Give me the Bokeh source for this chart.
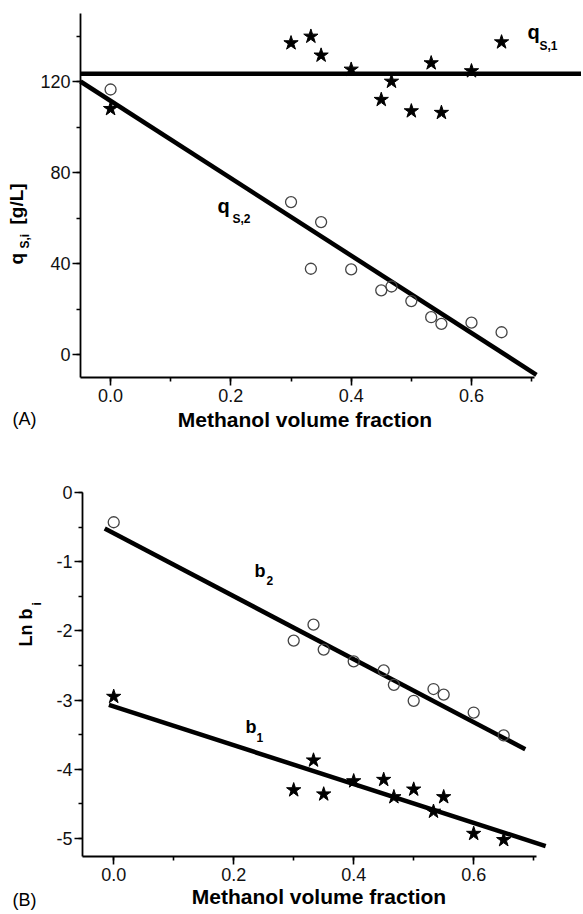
import math
from bokeh.plotting import figure
from bokeh.layouts import column
from bokeh.models import Label, SingleIntervalTicker, Range1d, PrintfTickFormatter, LinearAxis
from bokeh.embed import file_html
from bokeh.resources import INLINE

# ---------------- data ----------------
methanol_fraction = [0.0, 0.30, 0.333, 0.35, 0.40, 0.45, 0.467, 0.50, 0.533, 0.55, 0.60, 0.65]

# panel A: saturation capacities [g/L]
qs1_values = [108.1, 137.0, 139.9, 131.6, 125.4, 112.1, 120.1, 107.1, 128.2, 106.4, 124.7, 137.4]
qs2_values = [116.6, 67.1, 37.8, 58.3, 37.5, 28.3, 30.0, 23.6, 16.5, 13.6, 14.1, 9.9]
qs1_fit_x = [-0.05, 0.79]
qs1_fit_y = [123.5, 123.5]
qs2_fit_x = [-0.05, 0.708]
qs2_fit_y = [120.1, -8.8]

# panel B: Ln b_i
lnb1_values = [-2.95, -4.30, -3.87, -4.36, -4.17, -4.15, -4.40, -4.29, -4.61, -4.40, -4.93, -5.02]
lnb2_values = [-0.43, -2.14, -1.91, -2.27, -2.44, -2.57, -2.78, -3.01, -2.84, -2.92, -3.18, -3.51]
b1_fit_x = [-0.008, 0.72]
b1_fit_y = [-3.07, -5.11]
b2_fit_x = [-0.015, 0.686]
b2_fit_y = [-0.52, -3.71]

FONT = "Liberation Sans"
W = 581


def make_axes(p, x_loc, y_loc, xb, yb, y_interval):
    p.outline_line_color = None
    p.xgrid.visible = False
    p.ygrid.visible = False
    p.background_fill_color = "white"
    p.border_fill_color = "white"
    xa = LinearAxis(fixed_location=x_loc, bounds=xb,
                    ticker=SingleIntervalTicker(interval=0.2, num_minor_ticks=2),
                    formatter=PrintfTickFormatter(format="%.1f"))
    ya = LinearAxis(fixed_location=y_loc, bounds=yb,
                    ticker=SingleIntervalTicker(interval=y_interval, num_minor_ticks=2),
                    formatter=PrintfTickFormatter(format="%d"))
    for ax in (xa, ya):
        ax.axis_line_width = 1.8
        ax.axis_line_color = "black"
        ax.major_tick_line_width = 1.6
        ax.minor_tick_line_width = 1.6
        ax.major_tick_in = 0
        ax.major_tick_out = 8
        ax.minor_tick_in = 0
        ax.minor_tick_out = 4
        ax.major_label_text_font = FONT
        ax.major_label_text_font_size = "18px"
        ax.major_label_text_color = "#111111"
    xa.major_label_standoff = 4
    ya.major_label_standoff = 2
    p.add_layout(xa, "below")
    p.add_layout(ya, "left")


def lab(p, fx, fy, px, py, text, size, bold=True, rotated=False, align="left"):
    # px, py: intended page position of the text baseline start; a shift compensates
    # the renderer's baseline placement
    s = 0.4 * size
    if rotated:
        px -= s
    else:
        py -= s
    p.add_layout(Label(x=fx(px), y=fy(py), text=text, text_font=FONT,
                       text_font_size=f"{size}px",
                       text_font_style="bold" if bold else "normal",
                       angle=math.pi / 2 if rotated else 0.0,
                       text_align=align, text_baseline="alphabetic", text_color="black"))


# ---------------- panel A ----------------
p1 = figure(width=W, height=444, x_range=Range1d(-0.183, 0.7829), y_range=Range1d(-39.45, 155.71),
            output_backend="svg", toolbar_location=None,
            x_axis_location=None, y_axis_location=None,
            min_border_left=0, min_border_right=0, min_border_top=0, min_border_bottom=0)
make_axes(p1, -10, -0.05, (-0.05, 0.705), (-10, 150), 40)

p1.line(qs1_fit_x, qs1_fit_y, line_width=4.5, line_color="black")
p1.line(qs2_fit_x, qs2_fit_y, line_width=4.5, line_color="black")
p1.scatter(methanol_fraction, qs2_values, marker="circle", size=11, fill_color=None,
           line_color="#444444", line_width=1.3)
p1.scatter(methanol_fraction, qs1_values, marker="star", size=15, fill_color="black",
           line_color="black")


def ax1(px):
    return -0.05 + (px - 80) / 601.5


def ay1(py):
    return 150 - (py - 13) / 2.275


lab(p1, ax1, ay1, 527, 39.5, "q", 20)
lab(p1, ax1, ay1, 539, 50, "S,1", 12)
lab(p1, ax1, ay1, 217, 213.5, "q", 20)
lab(p1, ax1, ay1, 232, 223, "S,2", 12)
# rotated y-axis title
lab(p1, ax1, ay1, 23.7, 264, "q", 19, rotated=True)
lab(p1, ax1, ay1, 29, 248, "S,i", 12, rotated=True)
lab(p1, ax1, ay1, 23.7, 224, "[g/L]", 19, rotated=True)
lab(p1, ax1, ay1, 304.5, 427, "Methanol volume fraction", 21, align="center")
lab(p1, ax1, ay1, 12, 426, "(A)", 18, bold=False)

# ---------------- panel B ----------------
p2 = figure(width=W, height=468, x_range=Range1d(-0.1887, 0.7797), y_range=Range1d(-6.0694, 0.6936),
            output_backend="svg", toolbar_location=None,
            x_axis_location=None, y_axis_location=None,
            min_border_left=0, min_border_right=0, min_border_top=0, min_border_bottom=0)
make_axes(p2, -5.26, -0.052, (-0.052, 0.705), (-5.26, 0), 1)

p2.line(b2_fit_x, b2_fit_y, line_width=4.5, line_color="black")
p2.line(b1_fit_x, b1_fit_y, line_width=4.5, line_color="black")
p2.scatter(methanol_fraction, lnb2_values, marker="circle", size=11, fill_color=None,
           line_color="#444444", line_width=1.3)
p2.scatter(methanol_fraction, lnb1_values, marker="star", size=15, fill_color="black",
           line_color="black")


def ax2(px):
    return -0.052 + (px - 82) / 600


def ay2(py):
    return -(py - 492) / 69.2


lab(p2, ax2, ay2, 254, 578, "b", 18)
lab(p2, ax2, ay2, 266, 585, "2", 12)
lab(p2, ax2, ay2, 245, 734, "b", 18)
lab(p2, ax2, ay2, 256, 742, "1", 12)
lab(p2, ax2, ay2, 33, 646, "Ln b", 18, rotated=True)
lab(p2, ax2, ay2, 41, 605, "i", 12, rotated=True)
lab(p2, ax2, ay2, 318.5, 904.5, "Methanol volume fraction", 21, align="center")
lab(p2, ax2, ay2, 12, 907, "(B)", 18, bold=False)

layout = column(p1, p2, spacing=0)
open("out.html", "w").write(file_html(layout, INLINE))
